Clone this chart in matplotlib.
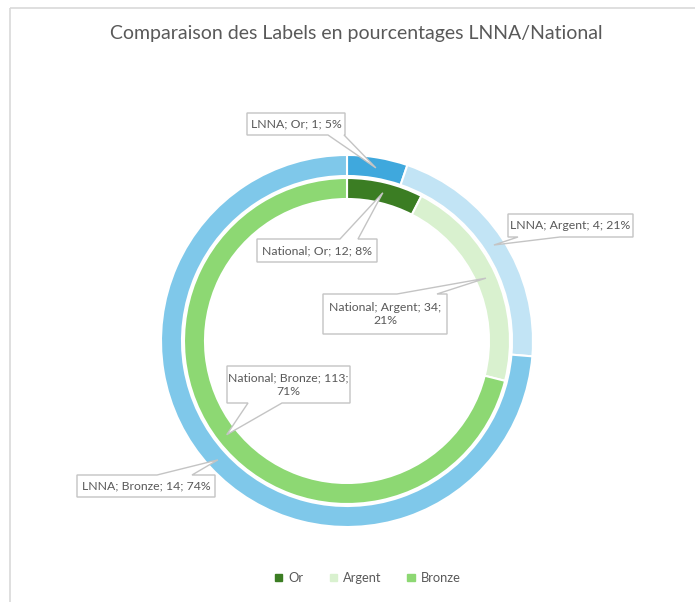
import matplotlib.pyplot as plt
from matplotlib.patches import Polygon, Rectangle
import numpy as np

plt.rcParams["font.family"] = ["Lato", "DejaVu Sans"]

categories = ["Or", "Argent", "Bronze"]
lnna_values = [1, 4, 14]
national_values = [12, 34, 113]
lnna_colors = ["#3fa8dd", "#c2e4f5", "#7fc8ea"]
national_colors = ["#3b7d23", "#d9f1cf", "#8dd873"]

title = "Comparaison des Labels en pourcentages LNNA/National"
text_color = "#595959"

# ring geometry in pixels (figure is drawn 1:1 in pixel units, y downwards)
cx, cy = 347, 341
r_outer, r_inner, ring_w = 186, 163, 21

# callout boxes: x0, y0, x1, y1, pointer side, pointer base start/end, wrap
box_layout = {
    ("LNNA", 0): (247, 113, 345, 135, "bottom", 328, 344, False),
    ("LNNA", 1): (508, 214, 633, 237, "bottom", 518, 560, False),
    ("LNNA", 2): (77, 475, 215, 497, "top", 157, 192, False),
    ("National", 0): (257, 239, 377, 262, "top", 340, 358, False),
    ("National", 1): (323, 294, 447, 334, "top", 397, 437, True),
    ("National", 2): (227, 366, 350, 403, "bottom", 248, 282, True),
}

fig = plt.figure(figsize=(6.95, 6.02), dpi=100)
ax = fig.add_axes([0, 0, 1, 1])

rings = [
    ("LNNA", lnna_values, lnna_colors, r_outer),
    ("National", national_values, national_colors, r_inner),
]
tips = {}
for name, vals, cols, rad in rings:
    wedges, _ = ax.pie(vals, colors=cols, radius=rad, center=(cx, cy),
                       startangle=-90, counterclock=True,
                       wedgeprops=dict(width=ring_w, edgecolor="white", linewidth=1.5))
    total = sum(vals)
    for i, w in enumerate(wedges):
        mid = np.deg2rad((w.theta1 + w.theta2) / 2)
        rm = rad - ring_w / 2
        tips[(name, i)] = (cx + rm * np.cos(mid), cy + rm * np.sin(mid), vals[i], round(100 * vals[i] / total))

ax.set_xlim(0, 695)
ax.set_ylim(602, 0)
ax.set_aspect("equal")
ax.axis("off")

for key, (x0, y0, x1, y1, side, b1, b2, wrap) in box_layout.items():
    tx, ty, v, pct = tips[key]
    name, i = key
    if side == "bottom":
        pts = [(x0, y0), (x1, y0), (x1, y1), (b2, y1), (tx, ty), (b1, y1), (x0, y1)]
    else:
        pts = [(x0, y0), (b1, y0), (tx, ty), (b2, y0), (x1, y0), (x1, y1), (x0, y1)]
    ax.add_patch(Polygon(pts, closed=True, facecolor="white", edgecolor="#c4c4c4",
                         linewidth=1, zorder=5))
    label = f"{name}; {categories[i]}; {v};" + ("\n" if wrap else " ") + f"{pct}%"
    ax.text((x0 + x1) / 2, (y0 + y1) / 2, label, ha="center", va="center",
            fontsize=8.8, color=text_color, zorder=6, linespacing=1.3)

# chart area border
ax.add_patch(Rectangle((10, 8), 700, 600, fill=False, edgecolor="#d9d9d9", linewidth=1.2))

ax.text(356, 33, title, ha="center", va="center", fontsize=14, color=text_color)

handles = [Rectangle((0, 0), 1, 1, color=c) for c in national_colors]
fig.legend(handles, categories, loc="center", bbox_to_anchor=(368 / 695, 1 - 578 / 602),
           ncol=3, frameon=False, fontsize=9.3, labelcolor=text_color,
           handlelength=0.55, handleheight=0.55, columnspacing=2.0, handletextpad=0.5)

fig.savefig("out.png", dpi=100)
